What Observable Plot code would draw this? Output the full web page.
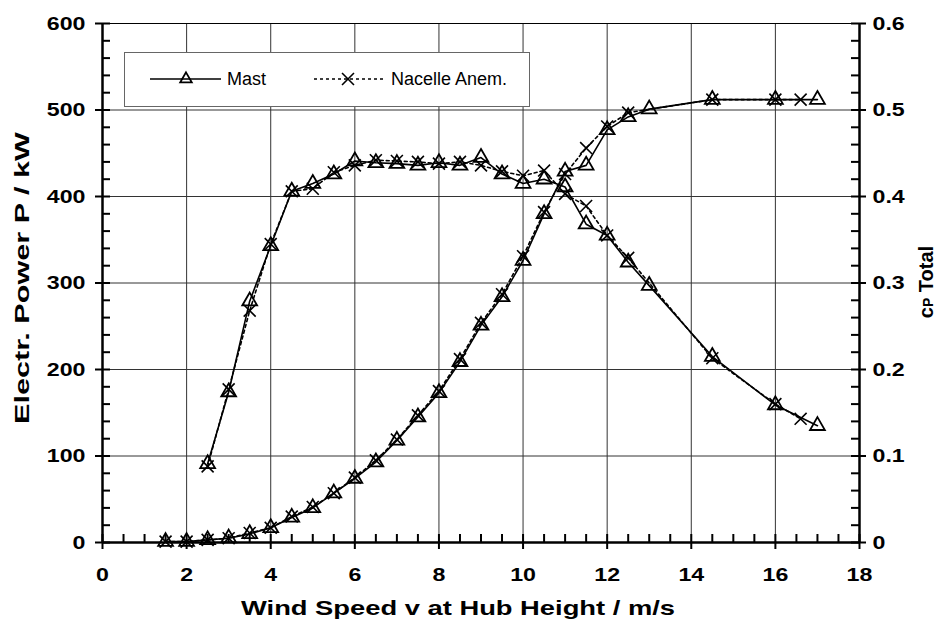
<!DOCTYPE html>
<html><head><meta charset="utf-8">
<script src="https://cdn.jsdelivr.net/npm/d3@7"></script>
<script src="https://cdn.jsdelivr.net/npm/@observablehq/plot@0.6"></script>
<style>
body{margin:0;background:#fff}
#wrap{position:relative;width:946px;height:625px;font-family:"Liberation Sans",Arial,sans-serif}
#legend{position:absolute;left:124px;top:52px;width:406px;height:55px;border:1px solid #666;background:#fff;box-sizing:border-box}
#legend svg{position:absolute;left:0;top:0}
</style></head><body><div id="wrap"></div>
<script>
// ---- data ----
const speedMast = [1.5,2,2.5,3,3.5,4,4.5,5,5.5,6,6.5,7,7.5,8,8.5,9,9.5,10,10.5,11,11.5,12,12.5,13,14.5,16,17];
const powerMast = [1,1,3,5,10,17,29,40,57,74,93,118,145,173,209,251,284,326,380,429,436,477,492,501,512,512,512];
const speedMastCp = [2.5,3,3.5,4,4.5,5,5.5,6,6.5,7,7.5,8,8.5,9,9.5,10,10.5,11,11.5,12,12.5,13,14.5,16,17];
const cpMast = [0.091,0.174,0.279,0.343,0.406,0.415,0.426,0.441,0.439,0.438,0.436,0.439,0.436,0.445,0.426,0.415,0.420,0.411,0.368,0.355,0.324,0.297,0.215,0.159,0.135];

const speedNac = [1.5,2,2.5,3,3.5,4,4.5,5,5.5,6,6.5,7,7.5,8,8.5,9,9.5,10,10.5,11,11.5,12,12.5,14.5,16,16.6];
const powerNac = [1,1,3,5,11,17,30,41,57,75,95,119,147,175,212,254,287,331,382,426,456,481,497,512,512,512];
const speedNacCp = [2.5,3,3.5,4,4.5,5,5.5,6,6.5,7,7.5,8,8.5,9,9.5,10,10.5,11,11.5,12,12.5,14.5,16,16.6];
const cpNac = [0.088,0.177,0.268,0.345,0.406,0.409,0.428,0.436,0.442,0.441,0.440,0.438,0.440,0.436,0.429,0.424,0.430,0.403,0.389,0.355,0.329,0.213,0.160,0.143];

const xTicks = [0,2,4,6,8,10,12,14,16,18];
const yTicks = [0,100,200,300,400,500,600];
const cpTicks = [0,0.1,0.2,0.3,0.4,0.5,0.6];
const seriesNames = ["Mast","Nacelle Anem."];
const xTitle = "Wind Speed v at Hub Height / m/s";
const yTitle = "Electr. Power P / kW";

// cp axis maps 0..0.6 onto the 0..600 kW scale
const CP_FACTOR = 600 / 0.6;

const mastP = speedMast.map((v,i)=>({v, y: powerMast[i]}));
const mastC = speedMastCp.map((v,i)=>({v, y: cpMast[i]*CP_FACTOR}));
const nacP = speedNac.map((v,i)=>({v, y: powerNac[i]}));
const nacC = speedNacCp.map((v,i)=>({v, y: cpNac[i]*CP_FACTOR}));

const xMinor = d3.range(0, 18.001, 0.5);
const yMinor = d3.range(0, 600.001, 20);
const cpAxisTicks = cpTicks.map(c => c*CP_FACTOR);

const lineSolid = {x:"v", y:"y", stroke:"#000", strokeWidth:1.6};
const lineDash = {x:"v", y:"y", stroke:"#000", strokeWidth:1.6, strokeDasharray:"3,3"};
const dotTri = {x:"v", y:"y", symbol:"triangle", r:5.5, stroke:"#000", strokeWidth:1.8, fill:"none"};
const dotX = {x:"v", y:"y", symbol:"times", r:5.5, stroke:"#000", strokeWidth:1.6, fill:"none"};
const tickStyle = {stroke:"#000", strokeWidth:2};

const chart = Plot.plot({
  width: 946, height: 625,
  marginLeft: 102, marginRight: 87, marginTop: 23, marginBottom: 83,
  style: {fontFamily: '"Liberation Sans", Arial, sans-serif', fontSize: "19px", fontWeight: "bold", color:"#000", background:"#fff"},
  x: {domain: [0,18]},
  y: {domain: [0,600]},
  marks: [
    Plot.gridX(xTicks.slice(1,-1), {stroke:"#333", strokeOpacity:1, strokeWidth:1}),
    Plot.gridY(yTicks.slice(1,-1), {stroke:"#333", strokeOpacity:1, strokeWidth:1}),
    Plot.frame({stroke:"#000", strokeWidth:1}),
    Plot.line(nacP, lineDash),
    Plot.line(nacC, lineDash),
    Plot.line(mastP, lineSolid),
    Plot.line(mastC, lineSolid),
    Plot.dot(nacP, dotX),
    Plot.dot(nacC, dotX),
    Plot.dot(mastP, dotTri),
    Plot.dot(mastC, dotTri),
    Plot.ruleX([0], {stroke:"#000", strokeWidth:2.5}),
    Plot.ruleX([18], {stroke:"#000", strokeWidth:2.5}),
    Plot.ruleY([0], {stroke:"#000", strokeWidth:2.5}),
    // major ticks (outward)
    Plot.ruleY(yTicks, {y: d=>d, x1: 0, x2: 0, insetLeft: -7, ...tickStyle}),
    Plot.ruleY(cpAxisTicks, {y: d=>d, x1: 18, x2: 18, insetRight: -7, ...tickStyle}),
    Plot.ruleX(xTicks, {x: d=>d, y1: 0, y2: 0, insetBottom: -7, ...tickStyle}),
    // minor ticks (inward)
    Plot.ruleY(yMinor, {y: d=>d, x1: 0, x2: 0, insetRight: -8, ...tickStyle}),
    Plot.ruleY(yMinor, {y: d=>d, x1: 18, x2: 18, insetLeft: -8, ...tickStyle}),
    Plot.ruleX(xMinor, {x: d=>d, y1: 0, y2: 0, insetTop: -8, ...tickStyle}),
    // tick labels
    Plot.axisY(yTicks, {anchor:"left", tickSize:0, tickPadding:17, label:null}),
    Plot.axisY(cpAxisTicks, {anchor:"right", tickSize:0, tickPadding:13, label:null,
      tickFormat: d => d === 0 ? "0" : (d/CP_FACTOR).toFixed(1)}),
    Plot.axisX(xTicks, {anchor:"bottom", tickSize:0, tickPadding:25, label:null})
  ]
});

const wrap = document.getElementById("wrap");
wrap.appendChild(chart);
const svg = d3.select(chart);

// stretch tick labels horizontally (chart is rendered wide)
svg.selectAll("g[aria-label='y-axis tick label'] text, g[aria-label='x-axis tick label'] text").each(function(){
  const w = this.getComputedTextLength();
  if (w > 0) { this.setAttribute("textLength", (w*1.22).toFixed(1)); this.setAttribute("lengthAdjust","spacingAndGlyphs"); }
});

// axis titles
svg.append("text").attr("x", 458).attr("y", 608).attr("dy","0.35em").attr("text-anchor","middle")
  .attr("font-size", 21).attr("font-weight","bold").attr("fill","#000")
  .attr("textLength", 434).attr("lengthAdjust","spacingAndGlyphs").text(xTitle);
svg.append("text").attr("transform","translate(22,278) rotate(-90)").attr("text-anchor","middle").attr("dy","0.35em")
  .attr("font-size", 20).attr("font-weight","bold").attr("fill","#000")
  .attr("textLength", 292).attr("lengthAdjust","spacingAndGlyphs").text(yTitle);
const rt = svg.append("text").attr("transform","translate(926,282) rotate(-90)").attr("text-anchor","middle").attr("dy","0.35em")
  .attr("font-size", 20).attr("font-weight","bold").attr("fill","#000");
rt.append("tspan").text("c");
rt.append("tspan").attr("font-size", 14).text("P");
rt.append("tspan").text(" Total");

// legend
const lg = document.createElement("div");
lg.id = "legend";
lg.innerHTML = `<svg width="406" height="55" style="font-family:'Liberation Sans',Arial,sans-serif">
  <line x1="25" x2="96" y1="26" y2="26" stroke="#000" stroke-width="1.6"/>
  <path d="${d3.symbol(d3.symbolTriangle2, 95)()}" transform="translate(61,26)" fill="none" stroke="#000" stroke-width="1.8"/>
  <text x="102" y="26" dy="0.35em" font-size="18" fill="#000">${seriesNames[0]}</text>
  <line x1="189" x2="258" y1="26" y2="26" stroke="#000" stroke-width="1.6" stroke-dasharray="3,3"/>
  <path d="${d3.symbol(d3.symbolTimes, 95)()}" transform="translate(223,26)" fill="none" stroke="#000" stroke-width="1.6"/>
  <text x="266" y="26" dy="0.35em" font-size="18" fill="#000">${seriesNames[1]}</text>
</svg>`;
wrap.appendChild(lg);
</script>
</body></html>
